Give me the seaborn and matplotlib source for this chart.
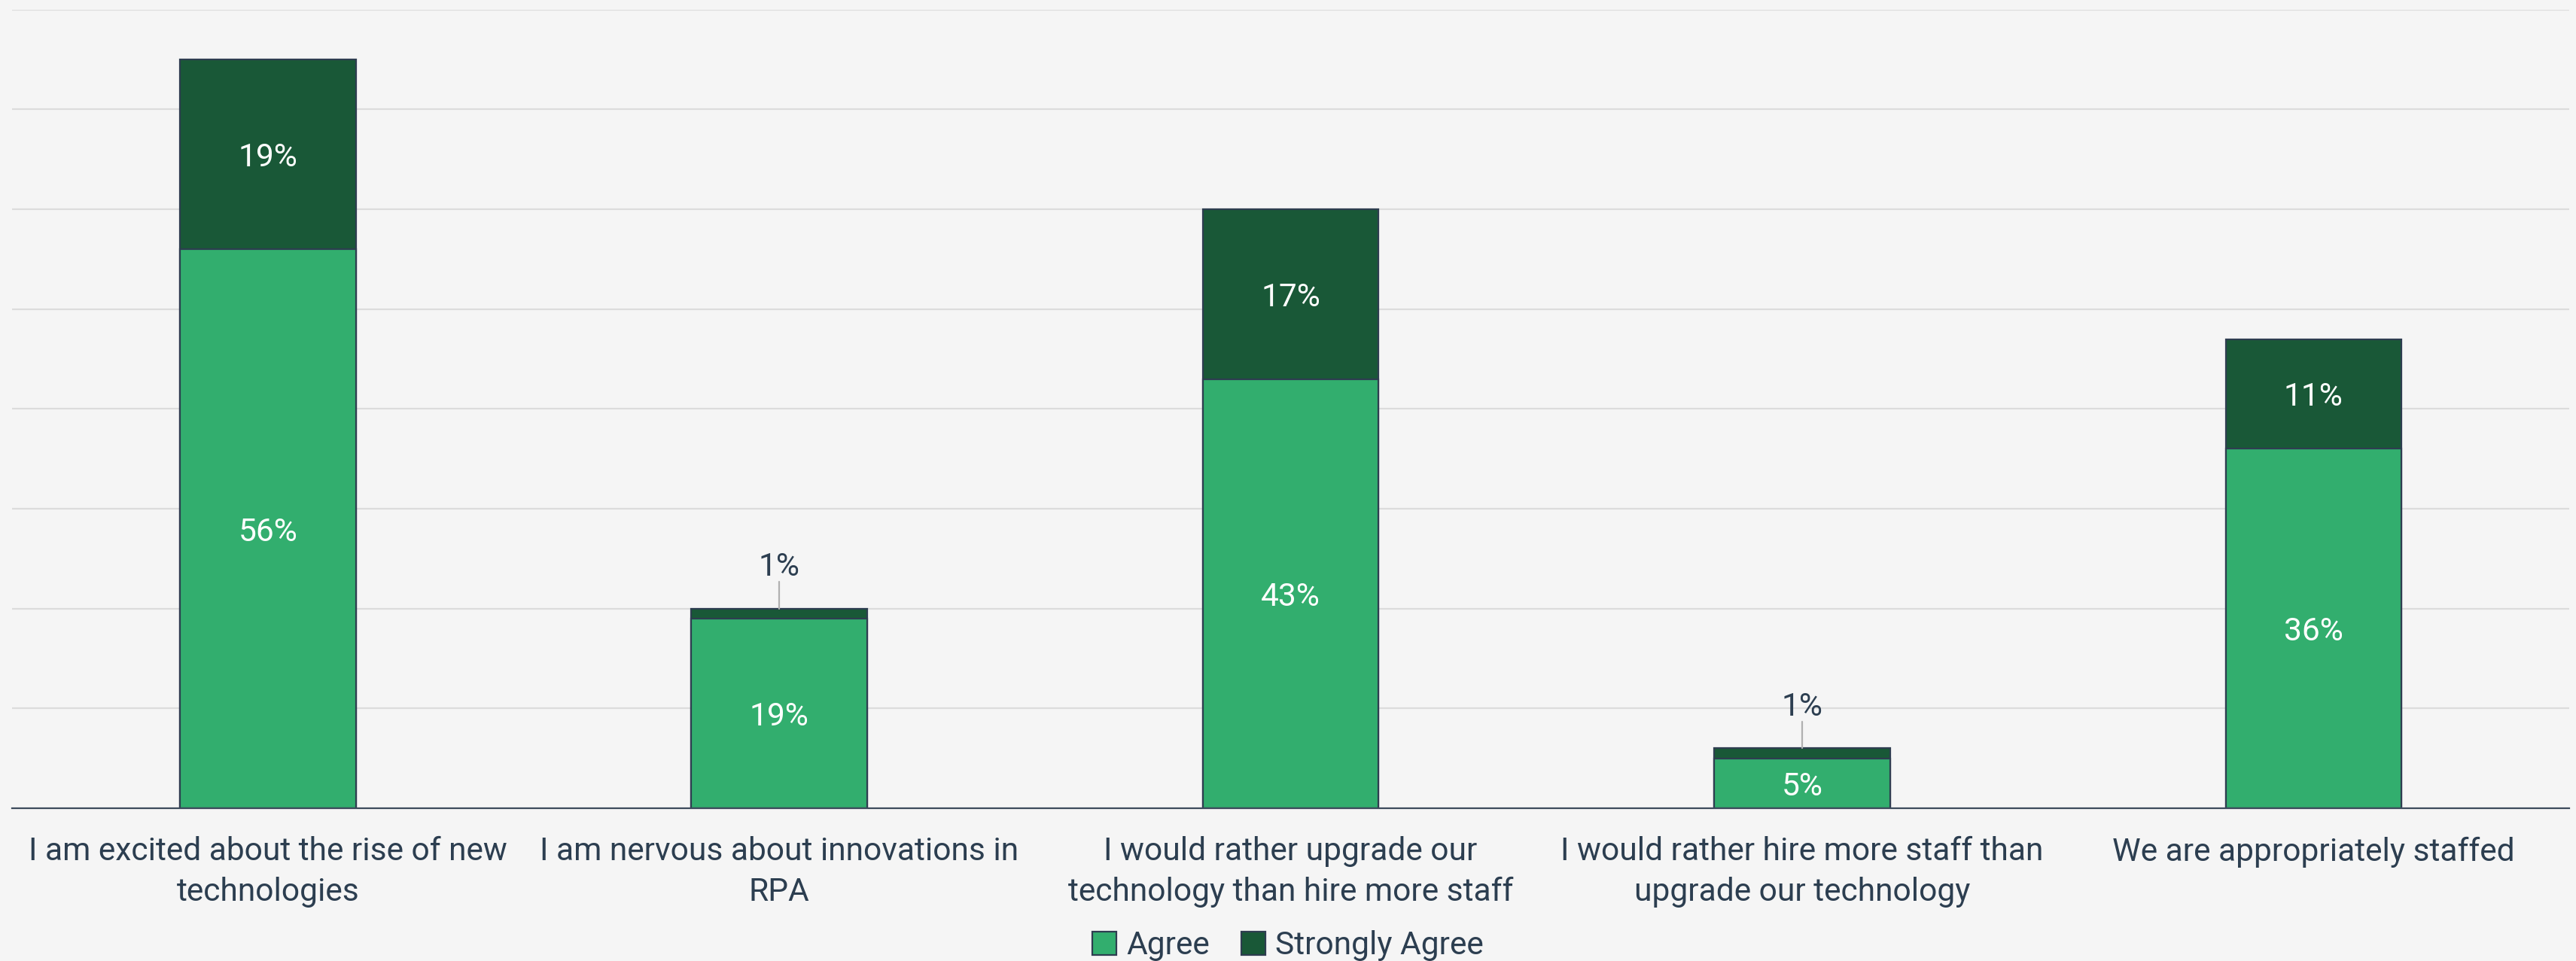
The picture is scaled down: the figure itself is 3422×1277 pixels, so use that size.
import matplotlib
matplotlib.use("Agg")
import matplotlib.pyplot as plt
import seaborn as sns
import pandas as pd
from matplotlib.patches import Patch

# Survey statements and share of respondents (%)
statements = [
    "I am excited about the rise of new\ntechnologies",
    "I am nervous about innovations in\nRPA",
    "I would rather upgrade our\ntechnology than hire more staff",
    "I would rather hire more staff than\nupgrade our technology",
    "We are appropriately staffed",
]
agree = [56, 19, 43, 5, 36]
strongly_agree = [19, 1, 17, 1, 11]
series_names = ["Agree", "Strongly Agree"]

BG = "#f5f5f5"
TEXT = "#2c3e50"
EDGE = "#2e3d50"
C_AGREE = "#32ae6e"
C_STRONG = "#195837"

sns.set_theme(style="whitegrid")
plt.rcParams["font.family"] = ["Roboto", "DejaVu Sans"]

df = pd.DataFrame({
    "statement": statements,
    "agree": agree,
    "strong": strongly_agree,
})
df["total"] = df["agree"] + df["strong"]

fig = plt.figure(figsize=(3422 / 200, 1277 / 200), dpi=200, facecolor=BG)
ax = fig.add_axes([0.0047, 0.159, 0.9927, 0.831])
ax.set_facecolor(BG)

# stacked bars: total height in dark green, agree portion drawn over it
sns.barplot(data=df, x="statement", y="total", color=C_STRONG, width=0.344,
            edgecolor=EDGE, linewidth=0.8, saturation=1, ax=ax, zorder=3)
sns.barplot(data=df, x="statement", y="agree", color=C_AGREE, width=0.344,
            edgecolor=EDGE, linewidth=0.8, saturation=1, ax=ax, zorder=4)

ax.set_ylim(0, 80)
ax.set_xlim(-0.5, len(statements) - 0.5)
ax.set_yticks(range(0, 81, 10))
ax.set_yticklabels([])
ax.tick_params(axis="y", length=0)
ax.grid(axis="y", color="#dcdcdc", linewidth=0.8, zorder=0)
ax.grid(axis="x", visible=False)
ax.set_xlabel("")
ax.set_ylabel("")
for side in ["top", "right", "left"]:
    ax.spines[side].set_visible(False)
ax.spines["bottom"].set_color("#3d4b5c")
ax.spines["bottom"].set_linewidth(0.8)
ax.spines["bottom"].set_zorder(5)
ax.tick_params(axis="x", length=0, pad=13.5, labelsize=15.3, labelcolor=TEXT)
for lbl in ax.get_xticklabels():
    lbl.set_linespacing(1.4)

fs = 15.3
for i, (a, s) in enumerate(zip(agree, strongly_agree)):
    ax.text(i, a / 2, f"{a}%", ha="center", va="center_baseline",
            color="white", fontsize=fs, zorder=6)
    if s >= 5:
        ax.text(i, a + s / 2, f"{s}%", ha="center", va="center_baseline",
                color="white", fontsize=fs, zorder=6)
    else:
        top = a + s
        ax.plot([i, i], [top, top + 2.7], color="#b0b0b0", linewidth=0.8,
                zorder=6)
        ax.text(i, top + 3.3, f"{s}%", ha="center", va="baseline",
                color=TEXT, fontsize=fs, zorder=6)

handles = [Patch(facecolor=C_AGREE, edgecolor=EDGE, linewidth=0.8),
           Patch(facecolor=C_STRONG, edgecolor=EDGE, linewidth=0.8)]
fig.legend(handles, series_names, loc="lower center",
           bbox_to_anchor=(0.5, -0.03), ncol=2, frameon=False,
           fontsize=fs, labelcolor=TEXT, handlelength=0.75,
           handleheight=0.75, handletextpad=0.3, columnspacing=1.0)

fig.savefig("out.png", dpi=200, facecolor=BG)
